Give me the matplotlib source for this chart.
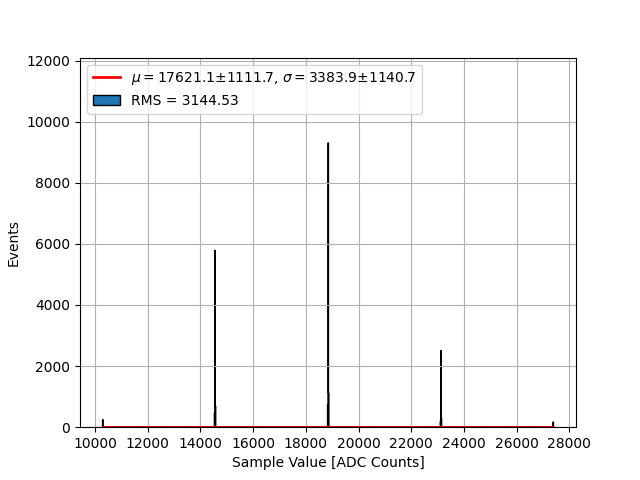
import numpy as np
import matplotlib
matplotlib.use("Agg")
import matplotlib.pyplot as plt
from matplotlib.ticker import MultipleLocator

# Histogram data (nonzero bins only): bin centres [ADC counts] and event counts
peak_centers = [10292, 14554, 18854, 23131, 27381]
peak_heights = [250, 5790, 9305, 2510, 170]
# relative shape of the populated bins around each peak (offset in bins, fraction of peak)
shape_offsets = [-1, 0, 1]
shape_fracs = [0.08, 1.0, 0.12]

data_min, data_max = 10287, 27398
n_bins = 1000

# Fit curve (Gaussian fit result, essentially flat at zero)
fit_x = [data_min, data_max]
fit_y = [0.0, 0.0]

fit_label = r"$\mu = $17621.1±1111.7, $\sigma = $3383.9±1140.7"
hist_label = "RMS = 3144.53"

edges = np.linspace(data_min, data_max, n_bins + 1)
width = edges[1] - edges[0]
centers, weights = [], []
for c, h in zip(peak_centers, peak_heights):
    for o, f in zip(shape_offsets, shape_fracs):
        x = c + o * width
        if data_min <= x <= data_max:
            centers.append(x)
            weights.append(h * f)

fig, ax = plt.subplots(figsize=(6.4, 4.8), dpi=100)
ax.hist(centers, bins=edges, weights=weights, histtype="stepfilled",
        facecolor="C0", edgecolor="black", label=hist_label)
ax.plot(fit_x, fit_y, color="red", lw=2, label=fit_label)
ax.set_ylim(0, 1.3 * max(peak_heights))
ax.xaxis.set_major_locator(MultipleLocator(2000))
ax.set_xlabel("Sample Value [ADC Counts]")
ax.set_ylabel("Events")
ax.grid(True)
h, l = ax.get_legend_handles_labels()
ax.legend(h[::-1], l[::-1], loc="upper left")
fig.savefig("out.png")
